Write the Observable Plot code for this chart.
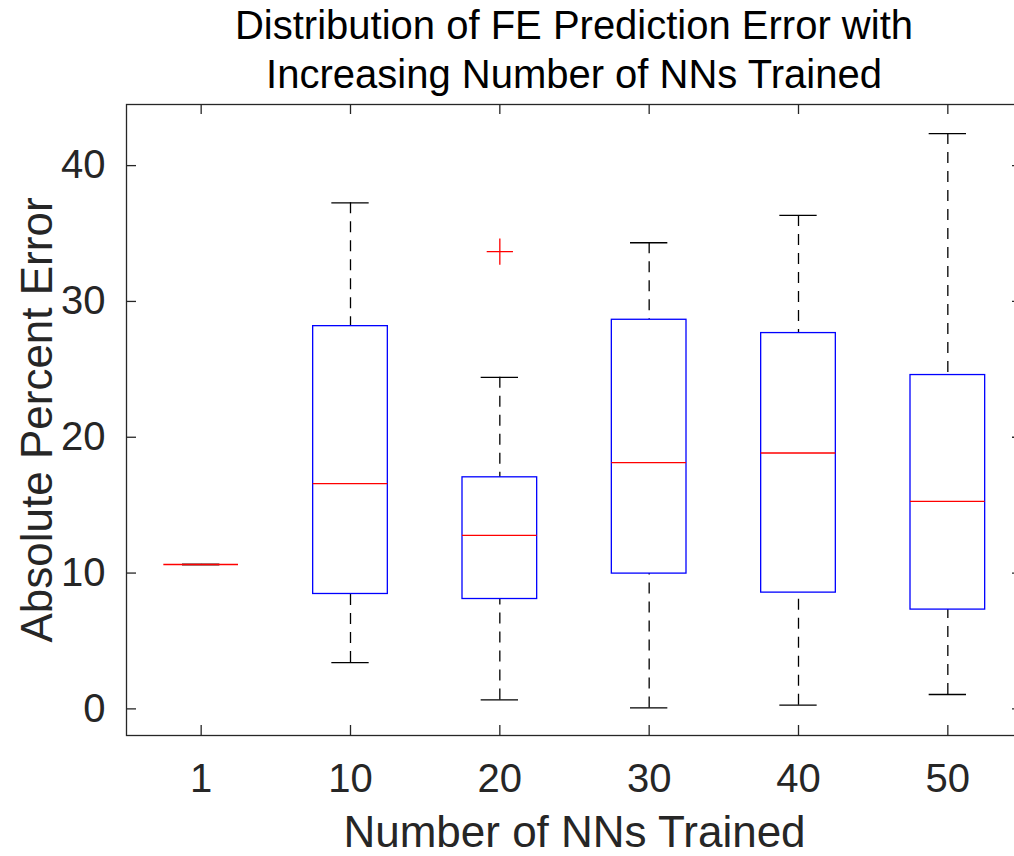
<!DOCTYPE html>
<html>
<head>
<meta charset="utf-8">
<script src="https://cdn.jsdelivr.net/npm/d3@7"></script>
<script src="https://cdn.jsdelivr.net/npm/@observablehq/plot@0.6"></script>
<style>
  html, body { margin: 0; padding: 0; background: #fff; }
  #fig { position: relative; width: 1014px; height: 856px; overflow: hidden; font-family: "Liberation Sans", Arial, Helvetica, sans-serif; }
  #title { position: absolute; left: 126px; width: 896px; top: 1px; text-align: center; font-size: 40px; line-height: 49px; color: #000; }
  #chart { position: absolute; left: 0; top: 0; width: 1030px; }
  #chart svg { max-width: none !important; }
</style>
</head>
<body>
<div id="fig">
  <div id="chart"></div>
  <div id="title">Distribution of FE Prediction Error with<br>Increasing Number of NNs Trained</div>
</div>
<script>
// Number of networks trained (one box per group)
const groups = ["1", "10", "20", "30", "40", "50"];
// Box-plot summary statistics of absolute percent error
const whiskerLow  = [10.63, 3.41, 0.66, 0.07, 0.27, 1.06];
const q1          = [10.63, 8.46, 8.09, 9.96, 8.56, 7.31];
const median      = [10.63, 16.58, 12.78, 18.13, 18.84, 15.28];
const q3          = [10.63, 28.18, 17.05, 28.65, 27.67, 24.58];
const whiskerHigh = [10.63, 37.26, 24.41, 34.32, 36.33, 42.36];
// Points beyond the whiskers
const outlierGroups = ["20"];
const outlierValues = [33.66];
const yTicks = [0, 10, 20, 30, 40];

const boxes = groups.map((g, i) => ({
  g, pos: i + 1,
  lo: whiskerLow[i], q1: q1[i], med: median[i], q3: q3[i], hi: whiskerHigh[i]
}));
const outliers = outlierGroups.map((g, i) => ({pos: groups.indexOf(g) + 1, v: outlierValues[i]}));

const W = 1030, H = 856;
const mL = 126, mR = 8, mT = 104, mB = 121;
const frameW = W - mL - mR, frameH = H - mT - mB;
const axisColor = "#262626";
const tickLen = 10;
const positions = groups.map((g, i) => i + 1);

const chart = Plot.plot({
  width: W,
  height: H,
  marginLeft: mL, marginRight: mR, marginTop: mT, marginBottom: mB,
  style: {fontFamily: "'Liberation Sans', Arial, Helvetica, sans-serif", fontSize: "40px", color: axisColor, background: "transparent", maxWidth: "none"},
  x: {type: "linear", domain: [0.5, 6.5], axis: null},
  y: {domain: [-1.96, 44.5], axis: null},
  marks: [
    // inward tick marks on all four sides
    Plot.tickX(positions, {x: d => d, stroke: axisColor, strokeWidth: 1.3, insetTop: frameH - tickLen}),
    Plot.tickX(positions, {x: d => d, stroke: axisColor, strokeWidth: 1.3, insetBottom: frameH - tickLen}),
    Plot.tickY(yTicks, {y: d => d, stroke: axisColor, strokeWidth: 1.3, insetRight: frameW - tickLen}),
    Plot.tickY(yTicks, {y: d => d, stroke: axisColor, strokeWidth: 1.3, insetLeft: frameW - tickLen}),
    // tick labels
    Plot.axisX(positions, {anchor: "bottom", tickSize: 0, tickPadding: 28, tickFormat: d => groups[d - 1], label: null, fill: axisColor}),
    Plot.axisY(yTicks, {anchor: "left", tickSize: 0, tickPadding: 21, label: null, fill: axisColor}),
    // whiskers (dashed, drawn from the cap toward the box)
    Plot.ruleX(boxes, {x: "pos", y1: "hi", y2: "q3", stroke: "#000", strokeWidth: 1.3, strokeDasharray: "11,8"}),
    Plot.ruleX(boxes, {x: "pos", y1: "lo", y2: "q1", stroke: "#000", strokeWidth: 1.3, strokeDasharray: "11,8"}),
    // whisker caps
    Plot.ruleY(boxes, {y: "hi", x1: d => d.pos - 0.125, x2: d => d.pos + 0.125, stroke: "#000", strokeWidth: 1.3}),
    Plot.ruleY(boxes, {y: "lo", x1: d => d.pos - 0.125, x2: d => d.pos + 0.125, stroke: "#000", strokeWidth: 1.3}),
    // interquartile boxes
    Plot.rect(boxes, {x1: d => d.pos - 0.25, x2: d => d.pos + 0.25, y1: "q1", y2: "q3", fill: "none", stroke: "#0000ff", strokeWidth: 1.3}),
    // medians
    Plot.ruleY(boxes, {y: "med", x1: d => d.pos - 0.25, x2: d => d.pos + 0.25, stroke: "#ff0000", strokeWidth: 1.3}),
    // outliers
    Plot.dot(outliers, {x: "pos", y: "v", symbol: "plus", r: 8.5, stroke: "#ff0000", strokeWidth: 1.3}),
    // axes box
    Plot.frame({stroke: axisColor, strokeWidth: 1.3}),
    // axis titles
    Plot.text(["Number of NNs Trained"], {frameAnchor: "bottom", textAnchor: "middle", lineAnchor: "middle", dy: 97, fontSize: 44, fill: axisColor}),
    Plot.text(["Absolute Percent Error"], {frameAnchor: "left", textAnchor: "middle", lineAnchor: "middle", dx: -89, rotate: -90, fontSize: 44, fill: axisColor})
  ]
});
document.getElementById("chart").appendChild(chart);
</script>
</body>
</html>
